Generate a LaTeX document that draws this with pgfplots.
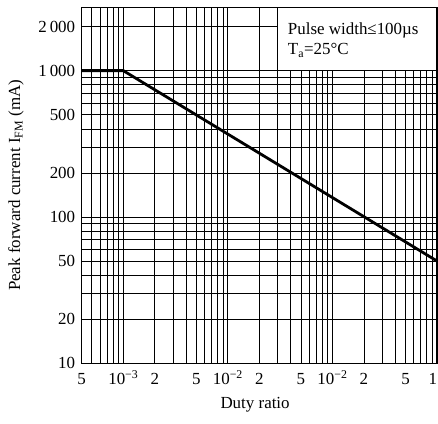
\documentclass[border=0pt]{standalone}
\usepackage{fontspec}
\setmainfont{Liberation Serif}
\usepackage{pgfplots}
\pgfplotsset{compat=1.18}

\newcommand{\chartfont}{\fontsize{17}{20}\selectfont}

\begin{document}
\begin{tikzpicture}
\begin{axis}[
  xmode=log, ymode=log,
  scale only axis, width=355.3bp, height=356bp,
  xmin=4e-4, xmax=1, ymin=10, ymax=2710,
  xtick={4e-4,1e-3,2e-3,5e-3,1e-2,2e-2,5e-2,1e-1,2e-1,5e-1,1},
  xticklabels={5,10\textsuperscript{−3},2,5,10\textsuperscript{−2},2,5,10\textsuperscript{−2},2,5,\makebox[0pt][r]{1}},
  minor xtick={5e-4,6e-4,7e-4,8e-4,9e-4,3e-3,4e-3,6e-3,7e-3,8e-3,9e-3,3e-2,4e-2,6e-2,7e-2,8e-2,9e-2,3e-1,4e-1,6e-1,7e-1,8e-1,9e-1},
  ytick={10,20,50,100,200,500,1000,2000},
  yticklabels={10,20,50,100,200,500,1\,000,2\,000},
  minor ytick={30,40,60,70,80,90,300,400,600,700,800,900},
  grid=both,
  major grid style={black, line width=0.75bp},
  minor grid style={black, line width=0.75bp},
  major tick length=0pt, minor tick length=0pt,
  axis line style={line width=1.2bp},
  tick label style={font=\chartfont},
  xticklabel style={anchor=base, inner sep=0pt, yshift=-21bp},
  yticklabel style={xshift=-3bp},
  label style={font=\chartfont},
  xlabel={Duty ratio},
  ylabel={Peak forward current I\textsubscript{FM} (mA)},
  xlabel style={at={(axis description cs:0.488,0)}, anchor=base, yshift=-44.7bp},
  ylabel style={at={(axis description cs:-0.185,0.5)}, anchor=center},
]
% derating curve
\addplot[black, line width=2.8bp] coordinates {(4e-4,1000) (1e-3,1000) (1,50)};

% condition box, top right
\draw[line width=1.1bp, fill=white] (axis cs:3e-2,1000) rectangle (rel axis cs:1,1);
\node[anchor=base west, inner sep=0pt, font=\chartfont] at ([xshift=10bp,yshift=-27bp]axis cs:3e-2,2710) {Pulse width≤100µs};
\node[anchor=base west, inner sep=0pt, font=\chartfont] at ([xshift=10bp,yshift=-47.7bp]axis cs:3e-2,2710) {T\textsubscript{a}=25°C};
\end{axis}
\path ([xshift=-81.7bp,yshift=-59.7bp]current axis.south west) rectangle ([xshift=1bp,yshift=7.3bp]current axis.north east);
\end{tikzpicture}
\end{document}
